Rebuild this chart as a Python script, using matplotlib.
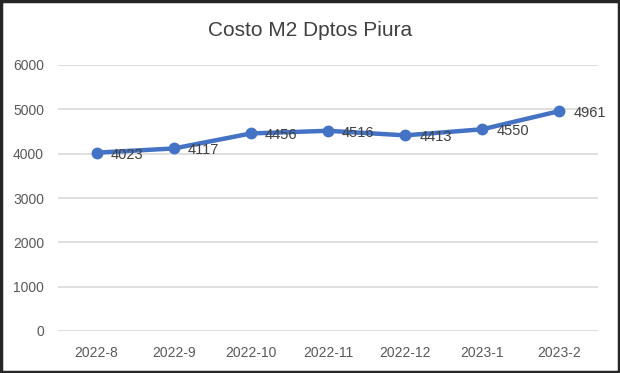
import matplotlib
matplotlib.use("Agg")
import matplotlib.pyplot as plt
from matplotlib.patches import Rectangle

categories = ["2022-8", "2022-9", "2022-10", "2022-11", "2022-12", "2023-1", "2023-2"]
values = [4023, 4117, 4456, 4516, 4413, 4550, 4961]
yticks = [0, 1000, 2000, 3000, 4000, 5000, 6000]

plt.rcParams['font.family'] = ['Liberation Sans', 'DejaVu Sans']

fig = plt.figure(figsize=(6.2, 3.73), dpi=100)
ax = fig.add_axes([58/620, 1-331/373, 540/620, 266/373])

x = list(range(len(categories)))
ax.plot(x, values, color="#4472C4", linewidth=3.2, marker="o", markersize=7.5, zorder=3,
        solid_capstyle="round")
for xi, v in zip(x, values):
    ax.annotate(str(v), (xi, v), textcoords="offset pixels", xytext=(14, -2),
                ha="left", va="center", fontsize=10.5, color="#404040", zorder=4)

ax.set_xlim(-0.5, len(categories) - 0.5)
ax.set_ylim(0, 6000)
ax.set_yticks(yticks)
ax.set_yticklabels([str(t) for t in yticks])
ax.set_xticks(x)
ax.set_xticklabels(categories)
ax.tick_params(axis="both", length=0, labelsize=10, labelcolor="#595959")
ax.tick_params(axis="y", pad=10)
ax.tick_params(axis="x", pad=11)
ax.grid(axis="y", color="#D9D9D9", linewidth=1.2)
ax.set_axisbelow(True)
for s in ax.spines.values():
    s.set_visible(False)

fig.text(0.5, 1-30/373, "Costo M2 Dptos Piura", ha="center", va="center",
         fontsize=15, color="#404040")

fig.patches.append(Rectangle((0.002, 0.003), 0.996, 0.994, transform=fig.transFigure,
                             fill=False, edgecolor="#262626", linewidth=2.5))

fig.savefig("out.png", dpi=100)
